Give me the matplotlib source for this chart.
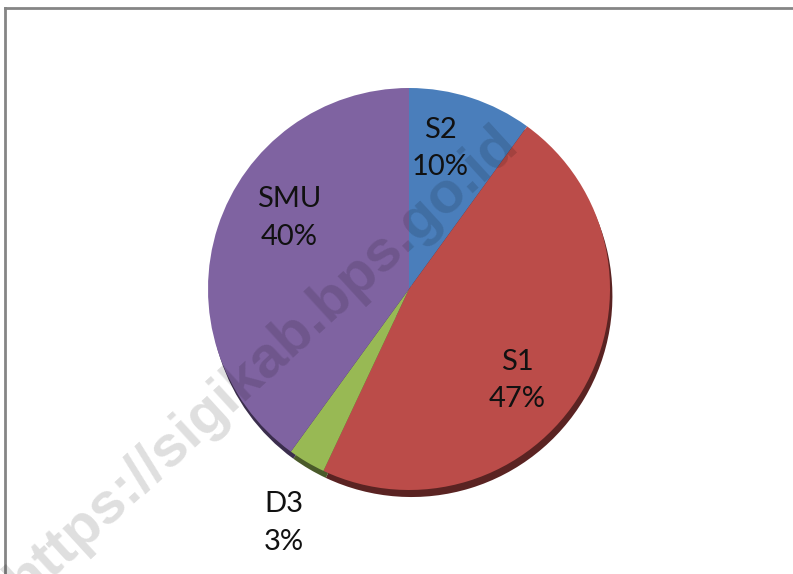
import matplotlib.pyplot as plt
from matplotlib.lines import Line2D

# pie data (percent), clockwise from 12 o'clock
labels = ['S2', 'S1', 'D3', 'SMU']
values = [10, 47, 3, 40]
colors = ['#4a7ebb', '#bb4c49', '#98b954', '#7f63a1']
shadow_colors = ['#23395a', '#5a2322', '#4a5a2a', '#3b2e4d']

# where the data labels sit (data coords, radius = 1)
label_pos = [(0.154, 0.70), (0.537, -0.455), (-0.622, -1.165), (-0.597, 0.352)]

plt.rcParams['font.family'] = ['Lato', 'DejaVu Sans']

fig = plt.figure(figsize=(7.93, 5.74), dpi=100)
W, H = 793, 574
cx, cy, r = 409, 289, 201
ax = fig.add_axes([(cx - r) / W, (H - cy - r) / H, 2 * r / W, 2 * r / H])

# soft shadow under the pie
ax.pie(values, colors=shadow_colors, startangle=90, counterclock=False,
       radius=1.0, center=(0.012, -0.035), wedgeprops={'linewidth': 0})
ax.pie(values, colors=colors, startangle=90, counterclock=False,
       radius=1.0, wedgeprops={'linewidth': 0})

for lab, v, (x, y) in zip(labels, values, label_pos):
    ax.text(x, y, f'{lab}\n{v}%', ha='center', va='center', fontsize=21,
            color='#111111', linespacing=1.55)

ax.set_xlim(-1, 1)
ax.set_ylim(-1, 1)
ax.set_aspect('equal')
ax.axis('off')

# frame lines (top and left)
fig.add_artist(Line2D([5 / W, 1], [1 - 8 / H, 1 - 8 / H], color='#858585', lw=2,
                      transform=fig.transFigure))
fig.add_artist(Line2D([5 / W, 5 / W], [0, 1 - 8 / H], color='#858585', lw=2,
                      transform=fig.transFigure))

# watermark (runs off the bottom-left edge, as in the original)
fig.text(262 / W, 1 - 362 / H, 'https://sigikab.bps.go.id', rotation=42.5,
         rotation_mode='anchor', ha='center', va='center', fontsize=42,
         fontweight='bold', family='Liberation Sans', color='black', alpha=0.13)

fig.savefig('out.png', dpi=100)
